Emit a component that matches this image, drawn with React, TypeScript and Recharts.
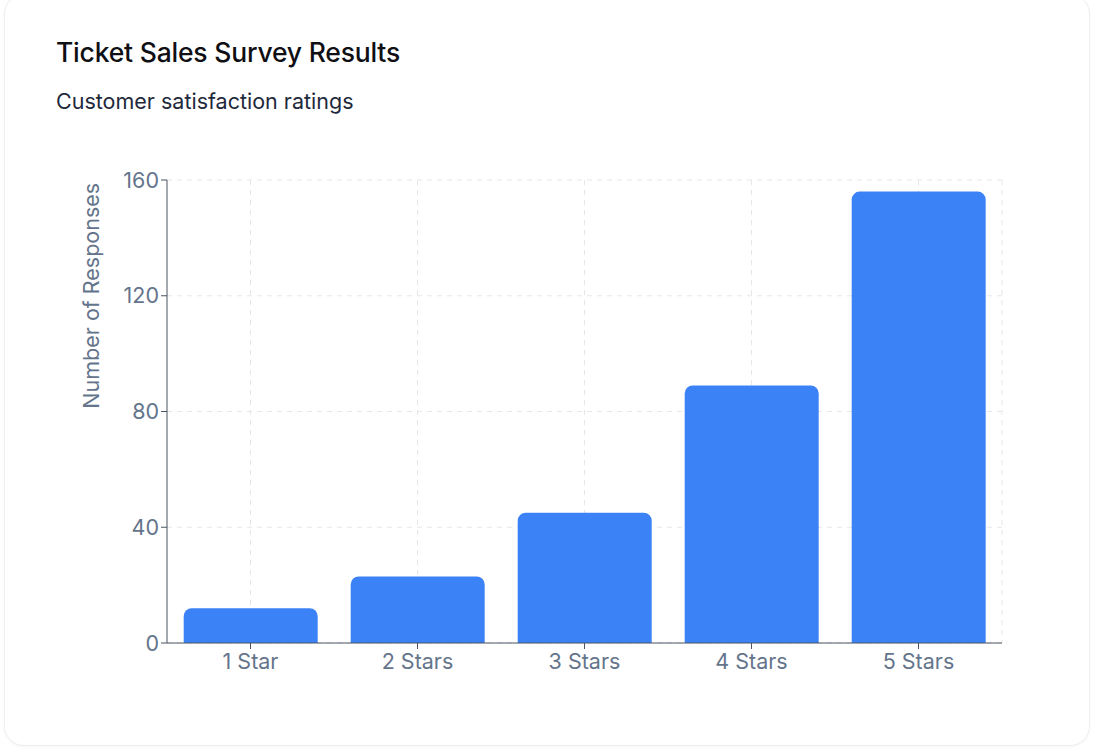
import React from 'react';
import { BarChart, Bar, XAxis, YAxis, CartesianGrid } from 'recharts';

const ratings = ['1 Star', '2 Stars', '3 Stars', '4 Stars', '5 Stars'];
const responses = [12, 23, 45, 89, 156];
const yTicks = [0, 40, 80, 120, 160];

const data = ratings.map((rating, i) => ({ rating, responses: responses[i] }));

const FONT = 'Inter, "Noto Sans", "DejaVu Sans", sans-serif';

const YLabel = (props: any) => {
  const vb = props.viewBox || {};
  const cx = 91;
  const cy = vb.y + vb.height / 4;
  return (
    <text
      x={cx}
      y={cy}
      transform={`rotate(-90, ${cx}, ${cy})`}
      textAnchor="middle"
      dominantBaseline="central"
      fill="#64748b"
      fontSize={21.5}
      fontFamily={FONT}
    >
      Number of Responses
    </text>
  );
};

const App: React.FC = () => {
  // vertical grid at category centres plus the right edge of the plot
  const verticalLines = ({ offset }: any) => {
    const n = ratings.length;
    const pts = ratings.map((_, i) => offset.left + (offset.width * (i + 0.5)) / n);
    pts.push(offset.left + offset.width);
    return pts;
  };

  return (
    <div style={{ position: 'absolute', left: 0, top: 0, width: 1093, height: 750, background: '#fff', fontFamily: FONT }}>
      <div
        style={{
          position: 'absolute',
          left: 4,
          top: -6,
          width: 1084,
          height: 750,
          borderRadius: 20,
          border: '1px solid #efefef',
          boxShadow: '0 1px 3px rgba(0,0,0,0.04)',
          background: '#fff',
        }}
      />
      <div style={{ position: 'absolute', left: 56, top: 36, fontSize: 26.5, lineHeight: '32px', fontWeight: 500, color: '#0f0f14', letterSpacing: -0.2 }}>
        Ticket Sales Survey Results
      </div>
      <div style={{ position: 'absolute', left: 56, top: 88, fontSize: 21.5, lineHeight: '26px', color: '#1e293b' }}>
        Customer satisfaction ratings
      </div>
      <div style={{ position: 'absolute', left: 0, top: 150 }}>
        <BarChart
          width={1093}
          height={560}
          data={data}
          margin={{ top: 30, right: 91, left: 107, bottom: 37 }}
          barCategoryGap="10%"
        >
          <CartesianGrid stroke="#e5e7eb" strokeDasharray="5 5" verticalCoordinatesGenerator={verticalLines} />
          <XAxis
            dataKey="rating"
            tick={{ fill: '#64748b', fontSize: 21.5, fontFamily: FONT }}
            stroke="#4b5563"
            tickMargin={5}
          />
          <YAxis
            width={60}
            ticks={yTicks}
            domain={[0, 160]}
            tick={{ fill: '#64748b', fontSize: 21.5, fontFamily: FONT }}
            stroke="#4b5563"
            label={<YLabel />}
          />
          <Bar dataKey="responses" fill="#3b82f6" radius={[8, 8, 0, 0]} isAnimationActive={false} />
        </BarChart>
      </div>
    </div>
  );
};

export default App;
